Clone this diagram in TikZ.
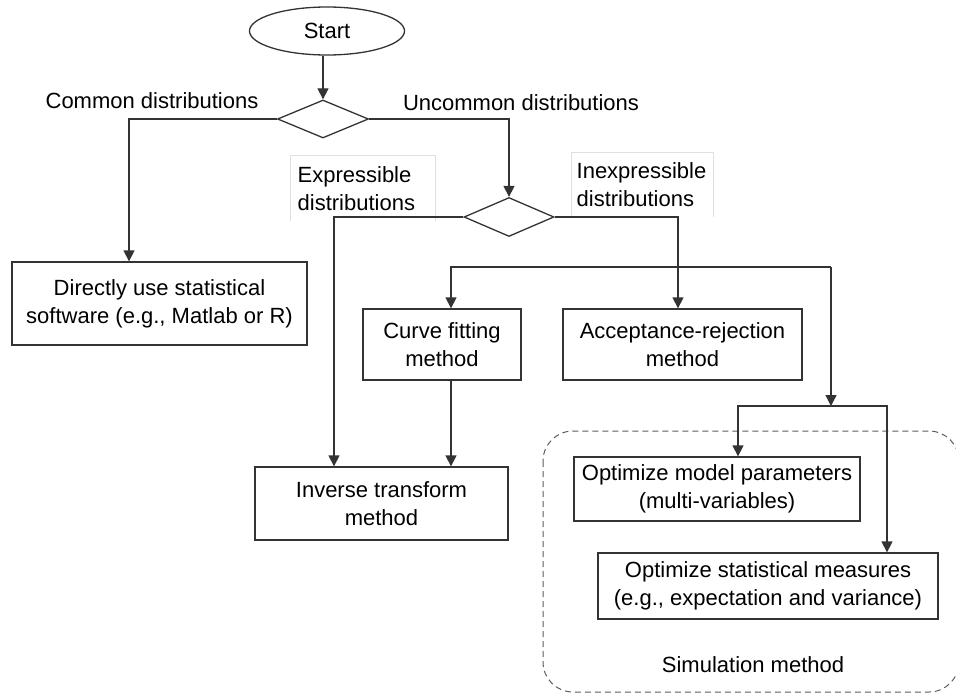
\documentclass[tikz,border=0pt]{standalone}
\usepackage{fontspec}
\setmainfont{Liberation Sans}
\usetikzlibrary{shapes.geometric,arrows.meta}
\definecolor{linegray}{rgb}{0.2,0.2,0.2}
\definecolor{taggray}{rgb}{0.88,0.88,0.88}
\begin{document}
\begin{tikzpicture}[x=1pt,y=-1pt,line width=1.3pt,draw=linegray,
  >={Triangle[length=11pt,width=11pt]},
  every node/.style={font=\fontsize{22}{28}\selectfont},
  box/.style={draw=linegray,rectangle,align=center,inner sep=0pt},
  tag/.style={align=left,anchor=north west,inner ysep=0pt}]

\useasboundingbox (0,0) rectangle (956,693);

\node[draw=linegray,ellipse,minimum width=155,minimum height=48,inner sep=0pt] (start) at (327,31) {Start};
\node[draw=linegray,diamond,minimum width=91,minimum height=38,inner sep=0pt] (d1) at (323,119) {};
\node[draw=linegray,diamond,minimum width=90,minimum height=39,inner sep=0pt] (d2) at (509,217) {};

\node (common) at (152,101) {Common distributions};
\node (uncommon) at (521,103) {Uncommon distributions};
\node[tag,text width=130,inner xsep=7pt,minimum height=65] (expr) at (290,155) {Expressible\\distributions};
\node[tag,text width=131,inner xsep=5pt,minimum height=64] (inexpr) at (571,152) {Inexpressible\\distributions};
\draw[taggray,line width=1pt] (expr.south west) -- (expr.north west) -- (expr.north east) -- (expr.south east);
\draw[taggray,line width=1pt] (inexpr.south west) -- (inexpr.north west) -- (inexpr.north east) -- (inexpr.south east);

\node[box,minimum width=295,minimum height=83] (direct) at (159.5,303.5) {Directly use statistical\\software (e.g., Matlab or R)};
\node[box,minimum width=158,minimum height=71] (curve) at (442,344.5) {Curve fitting\\method};
\node[box,minimum width=239,minimum height=71] (accept) at (682.5,344.5) {Acceptance-rejection\\method};
\node[box,minimum width=253,minimum height=73] (inverse) at (381.5,503.5) {Inverse transform\\method};
\node[box,minimum width=286,minimum height=64] (optmodel) at (717,489) {Optimize model parameters\\(multi-variables)};
\node[box,minimum width=340,minimum height=66] (optstat) at (768,586) {Optimize statistical measures\\(e.g., expectation and variance)};

\draw[linegray!80,line width=1pt,dash pattern=on 6pt off 4pt,rounded corners=30pt] (543,431) rectangle (959,692);
\node (sim) at (753,665) {Simulation method};

\coordinate (split) at (831,267);
\coordinate (join) at (831,406);

\draw[->] (d1.north |- start.south) -- (d1.north);
\draw[->] (d1.west) -| (129,0 |- direct.north);
\draw[->] (d1.east) -| (d2.north);
\draw[->] (d2.west) -| (334,0 |- inverse.north);
\draw[->] (d2.east) -| (678,0 |- accept.north);
\draw[->] (split) -| (451,0 |- curve.north);
\draw[->] (split) -- (join);
\draw[->] (451,0 |- curve.south) -- (451,0 |- inverse.north);
\draw[->] (join) -| (738,0 |- optmodel.north);
\draw[->] (join) -| (887,0 |- optstat.north);
\end{tikzpicture}
\end{document}
